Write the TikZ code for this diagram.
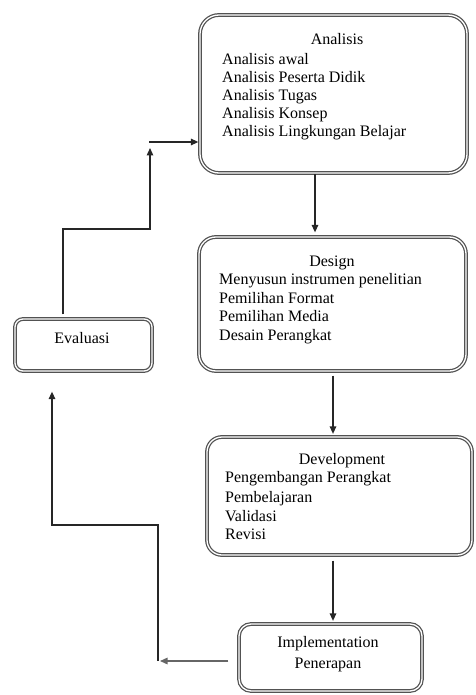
\documentclass[tikz,border=0pt]{standalone}
\usepackage{fontspec}
\setmainfont{Liberation Serif}
\usetikzlibrary{arrows.meta}
\begin{document}
\begin{tikzpicture}[x=1pt,y=-1pt,
  box/.style={draw=black!68, double=white, double distance=1.3pt, line width=1.25pt, inner sep=0pt},
  lbl/.style={inner sep=0pt, font=\fontsize{16}{18}\selectfont, text=black},
  conn/.style={draw=black!85, line width=1.3pt, -{Triangle[length=7.5pt,width=6.5pt]}},
  plain/.style={draw=black!85, line width=1.3pt}]
\useasboundingbox (0,0) rectangle (475,695);
% boxes
\node[box, rounded corners=19pt, minimum width=267pt, minimum height=158pt] (ana) at (333.5,94) {};
\node[box, rounded corners=17pt, minimum width=267pt, minimum height=134pt] (des) at (332.5,304) {};
\node[box, rounded corners=15pt, minimum width=265pt, minimum height=118pt] (dev) at (339.5,496) {};
\node[box, rounded corners=12pt, minimum width=183pt, minimum height=67pt] (imp) at (330.5,657.5) {};
\node[box, rounded corners=8pt, minimum width=137pt, minimum height=52pt] (eva) at (83.5,345) {};
% texts
\node[lbl, anchor=base] (anaT) at (337,44.5) {Analisis};
\node[lbl, anchor=base west] (ana1) at (222,64.5) {Analisis awal};
\node[lbl, anchor=base west] (ana2) at (222,82.5) {Analisis Peserta Didik};
\node[lbl, anchor=base west] (ana3) at (222,100.5) {Analisis Tugas};
\node[lbl, anchor=base west] (ana4) at (222,118.5) {Analisis Konsep};
\node[lbl, anchor=base west] (ana5) at (222,136.5) {Analisis Lingkungan Belajar};
\node[lbl, anchor=base] (desT) at (332,266.5) {Design};
\node[lbl, anchor=base west] (des1) at (219,284.5) {Menyusun instrumen penelitian};
\node[lbl, anchor=base west] (des2) at (219,303) {Pemilihan Format};
\node[lbl, anchor=base west] (des3) at (219,321.5) {Pemilihan Media};
\node[lbl, anchor=base west] (des4) at (219,340) {Desain Perangkat};
\node[lbl, anchor=base] (devT) at (342,464.5) {Development};
\node[lbl, anchor=base west] (dev1) at (225,482.5) {Pengembangan Perangkat};
\node[lbl, anchor=base west] (dev2) at (225,502) {Pembelajaran};
\node[lbl, anchor=base west] (dev3) at (225,521) {Validasi};
\node[lbl, anchor=base west] (dev4) at (225,539.5) {Revisi};
\node[lbl, anchor=base] (imp1) at (328,647.5) {Implementation};
\node[lbl, anchor=base] (imp2) at (328,668.5) {Penerapan};
\node[lbl, anchor=base] (evaT) at (82,343.5) {Evaluasi};
% helper coordinates
\coordinate (xA) at (315,0);
\coordinate (xB) at (333,0);
\coordinate (e1) at (63,229);
\coordinate (e2) at (150,148);
\coordinate (h1) at (149,142);
\coordinate (b1) at (160,661);
\coordinate (b2) at (158,661);
\coordinate (b3) at (158,525);
\coordinate (b4) at (52,525);
\coordinate (xE) at (63,0);
% connectors
\draw[conn] ([yshift=-0.5pt]ana.south -| xA) -- ([yshift=4pt]des.north -| xA);
\draw[conn] ([yshift=-4pt]des.south -| xB) -- ([yshift=2.5pt]dev.north -| xB);
\draw[conn] ([yshift=-5pt]dev.south -| xB) -- ([yshift=2.5pt]imp.north -| xB);
\draw[conn, draw=black!60] ([xshift=-10pt]imp.west |- b1) -- (b1);
\draw[conn] (b2) -- (b3) -- (b4) -- ([yshift=-20pt]eva.south -| b4);
\draw[conn] ([yshift=4pt]eva.north -| xE) -- (e1) -| (e2);
\draw[conn] (h1) -- ([xshift=-1pt]ana.west |- h1);
\end{tikzpicture}
\end{document}
